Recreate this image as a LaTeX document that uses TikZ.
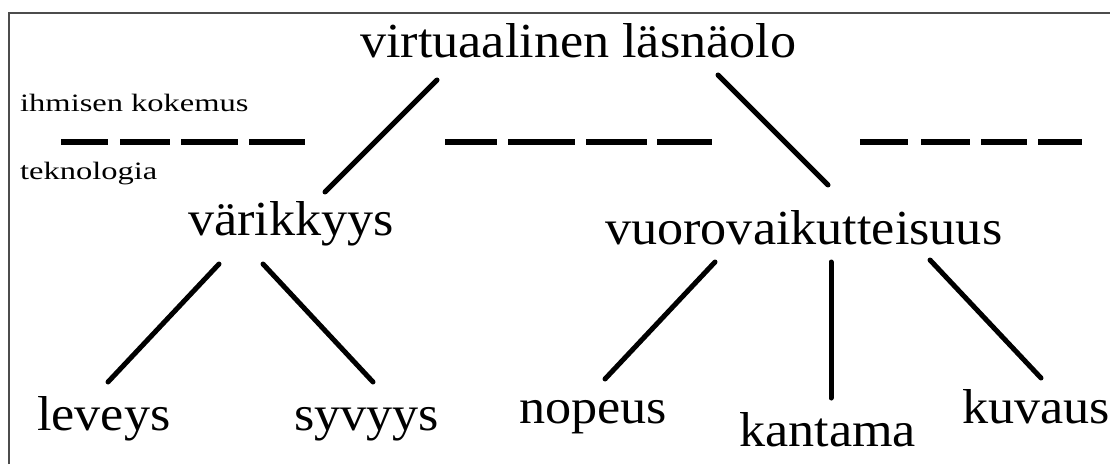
\documentclass[tikz,border=0pt]{standalone}
\usepackage{fontspec}
\setmainfont{Liberation Serif}
\newfontfamily\bigfont[FakeStretch=1.065]{Liberation Serif}
\newfontfamily\smallfont[FakeStretch=1.3]{Liberation Serif}
\tikzset{
  big/.style={anchor=base west, inner sep=0pt, font=\bigfont\fontsize{49}{53}\selectfont},
  small/.style={anchor=base west, inner sep=0pt, font=\smallfont\fontsize{25}{29}\selectfont},
  link/.style={line width=5pt, line cap=round},
  divider/.style={line width=6.5pt, line cap=butt},
  frameline/.style={line width=1.6pt, draw=black!70},
}
\begin{document}
\begin{tikzpicture}[x=1pt, y=1pt]
\useasboundingbox[fill=white] (0,0) rectangle (1110,464);
% frame (top and left edges)
\draw[frameline] (9,0) -- (9,451) -- (1110,451);
% text nodes
\node[big] (vl) at (360,406) {virtuaalinen läsnäolo};
\node[small] (ik) at (20,352) {ihmisen kokemus};
\node[small] (tk) at (20,284) {teknologia};
\node[big] (var) at (188,229) {värikkyys};
\node[big] (vv) at (605,219) {vuorovaikutteisuus};
\node[big] (lev) at (37,34) {leveys};
\node[big] (syv) at (294,34) {syvyys};
\node[big] (nop) at (519,41) {nopeus};
\node[big] (kan) at (739,18) {kantama};
\node[big] (kuv) at (962,41) {kuvaus};
% dashed divider between human experience and technology
\foreach \a/\b in {61/108,120/170,181/238,249/305,445/497,508/575,586/647,657/712,860/908,921/970,981/1027,1038/1082}
  \draw[divider] (\a,322) -- (\b,322);
% connectors
\draw[link] ([shift={(77,-22)}]vl.base west) -- ([shift={(137,43)}]var.base west);
\draw[link] ([shift={(358,-17)}]vl.base west) -- ([shift={(223,60)}]vv.base west);
\draw[link] ([shift={(31,-29)}]var.base west) -- ([shift={(71,48)}]lev.base west);
\draw[link] ([shift={(75,-29)}]var.base west) -- ([shift={(79,48)}]syv.base west);
\draw[link] ([shift={(110,-17)}]vv.base west) -- ([shift={(86,44)}]nop.base west);
\draw[link] ([shift={(226,-17)}]vv.base west) -- ([shift={(92,48)}]kan.base west);
\draw[link] ([shift={(325,-15)}]vv.base west) -- ([shift={(79,45)}]kuv.base west);
\end{tikzpicture}
\end{document}
